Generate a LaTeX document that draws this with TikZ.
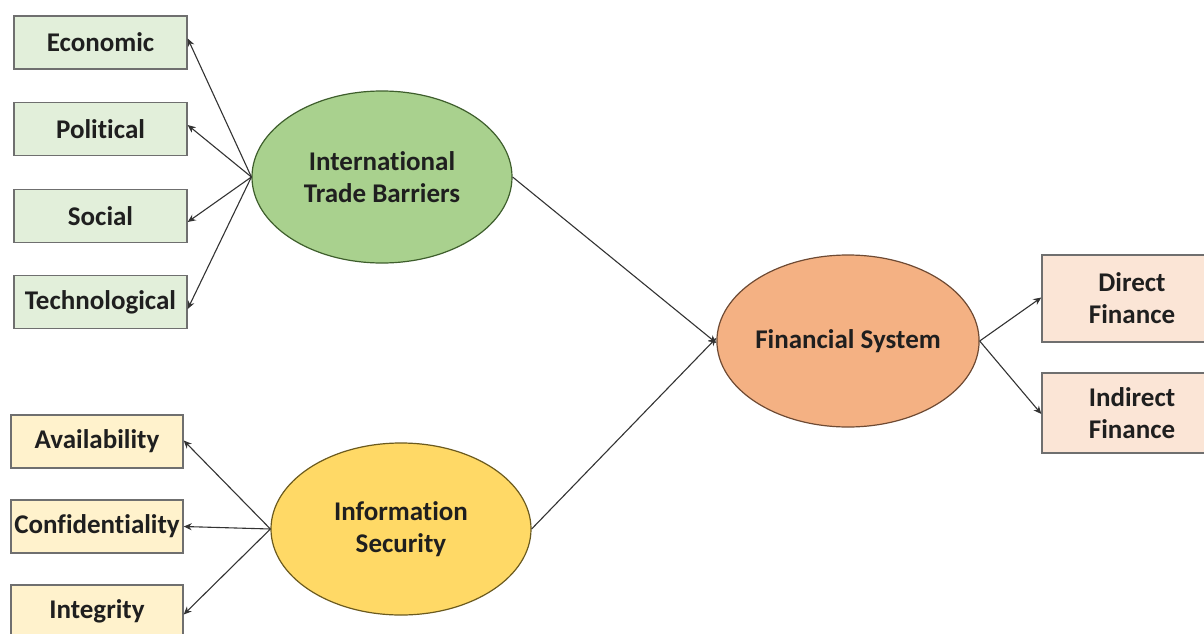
\documentclass[tikz,border=0pt]{standalone}
\usepackage{fontspec}
\setmainfont{Carlito}[Ligatures=NoCommon]
\usetikzlibrary{arrows.meta,shapes.geometric}

\definecolor{edgegray}{HTML}{333333}
\definecolor{boxline}{HTML}{6F6F6F}
\definecolor{greenbox}{HTML}{E2EFDA}
\definecolor{greenell}{HTML}{A9D18E}
\definecolor{greenellline}{HTML}{3E5E2C}
\definecolor{yellowbox}{HTML}{FFF2CC}
\definecolor{yellowell}{HTML}{FFD966}
\definecolor{yellowellline}{HTML}{6B5A1E}
\definecolor{orangebox}{HTML}{FBE5D6}
\definecolor{orangeell}{HTML}{F4B183}
\definecolor{orangeellline}{HTML}{6E4A33}

\tikzset{
  lbl/.style={font=\fontsize{27}{32}\selectfont\bfseries, text=black!88, align=center, inner sep=0pt},
  factor/.style={lbl, draw=boxline, line width=1.4pt, rectangle},
  greenfactor/.style={factor, fill=greenbox, minimum width=173pt, minimum height=53pt},
  yellowfactor/.style={factor, fill=yellowbox, minimum width=172pt, minimum height=53pt},
  orangefactor/.style={factor, fill=orangebox, minimum width=180pt},
  construct/.style={lbl, ellipse, line width=1.2pt, minimum width=260pt, minimum height=172pt},
  link/.style={draw=edgegray, line width=1.1pt, -{Stealth[length=8pt,width=7pt]}}
}

\begin{document}
\begin{tikzpicture}[x=1pt,y=-1pt]
  \useasboundingbox (0,0) rectangle (1204,634);
  \clip (0,0) rectangle (1204,634);

  % constructs
  \node[construct, fill=greenell, draw=greenellline] (itb) at (382,177) {International\\Trade Barriers};
  \node[construct, fill=yellowell, draw=yellowellline] (isec) at (401,529) {Information\\Security};
  \node[construct, fill=orangeell, draw=orangeellline] (fin) at (848,341) {Financial System};

  % trade barrier dimensions
  \node[greenfactor] (eco) at (100.5,42.5) {Economic};
  \node[greenfactor] (pol) at (100.5,129) {Political};
  \node[greenfactor] (soc) at (100.5,216) {Social};
  \node[greenfactor] (tec) at (100.5,302) {Technological};

  % security dimensions
  \node[yellowfactor] (ava) at (97,441.5) {Availability};
  \node[yellowfactor] (con) at (97,526.5) {Confidentiality};
  \node[yellowfactor] (int) at (97,611.5) {Integrity};

  % finance channels
  \node[orangefactor, minimum height=87pt] (dir) at (1132,298.5) {Direct\\Finance};
  \node[orangefactor, minimum height=80pt] (ind) at (1132,413) {Indirect\\Finance};

  % connectors
  \draw[link] (itb.west) -- ([yshift=4pt]eco.east);
  \draw[link] (itb.west) -- ([yshift=4pt]pol.east);
  \draw[link] (itb.west) -- ([yshift=-6pt]soc.east);
  \draw[link] (itb.west) -- ([yshift=-7pt]tec.east);

  \draw[link] (isec.west) -- ([yshift=1pt]ava.east);
  \draw[link] (isec.west) -- (con.east);
  \draw[link] (isec.west) -- ([yshift=-3pt]int.east);

  \draw[link] (itb.east) -- ([yshift=-2pt]fin.west);
  \draw[link] (isec.east) -- ([yshift=3pt]fin.west);

  \draw[link] (fin.east) -- ([yshift=1pt]dir.west);
  \draw[link] (fin.east) -- ([yshift=-1pt]ind.west);
\end{tikzpicture}
\end{document}
